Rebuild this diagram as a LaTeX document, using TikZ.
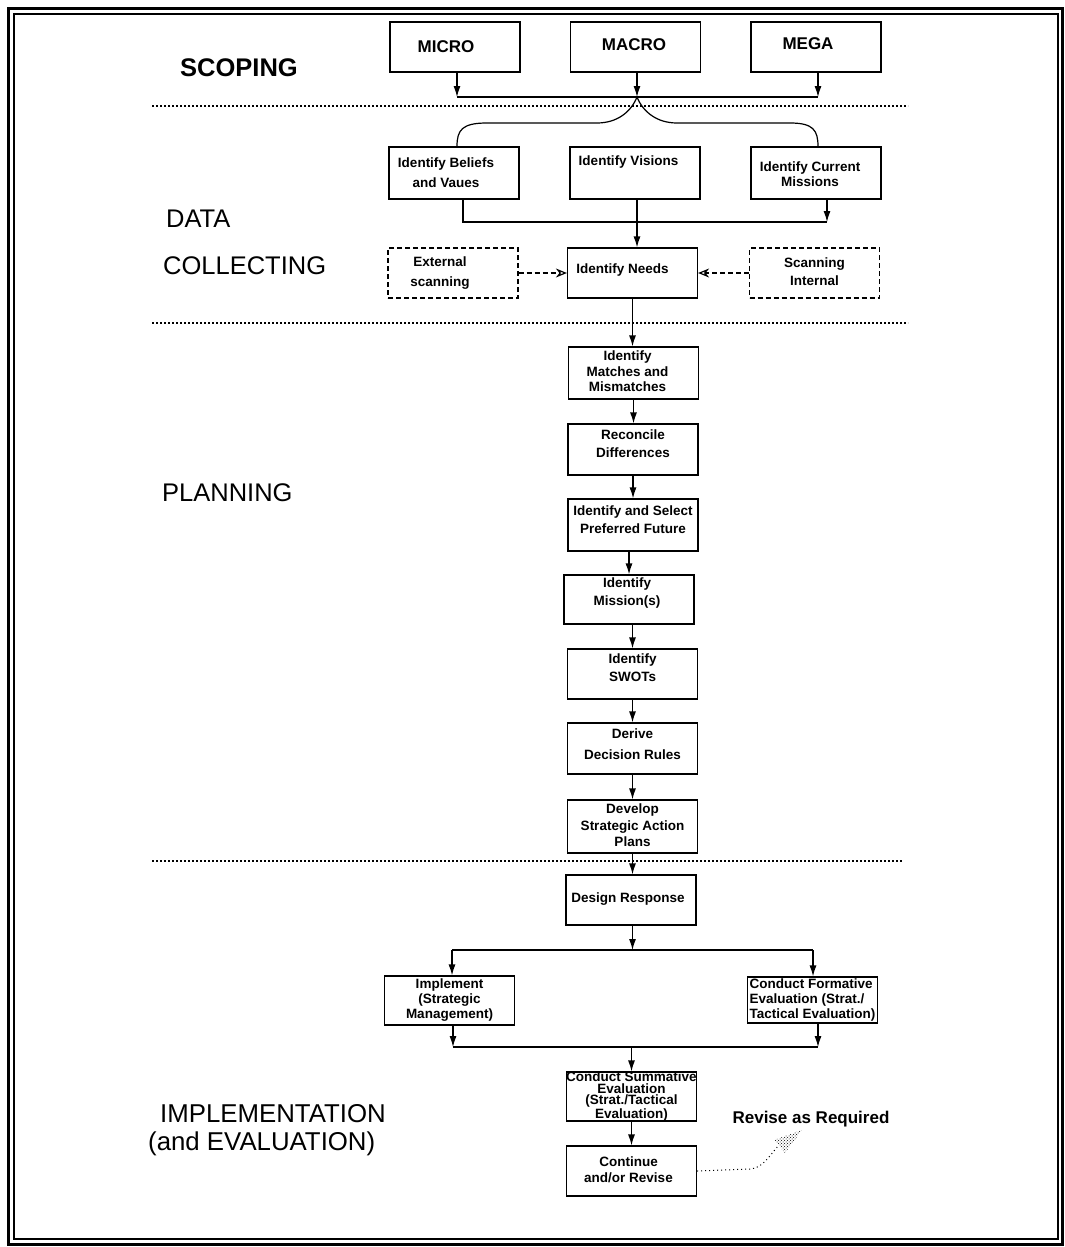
\documentclass[tikz,border=0pt]{standalone}
\usepackage{fontspec}
\setmainfont{Liberation Sans}
\usetikzlibrary{arrows.meta,patterns,calc}

\begin{document}
\begin{tikzpicture}[x=1pt,y=-1pt,
  stage/.style={draw, line width=1.2pt, inner sep=0pt, minimum width=130pt, minimum height=50pt},
  scan/.style={stage, dash pattern=on 5pt off 3pt},
  txt/.style={font=\bfseries\fontsize{13.5}{18}\selectfont, align=center, inner sep=0pt},
  big/.style={font=\bfseries\fontsize{17}{20}\selectfont, inner sep=0pt},
  head/.style={font=\fontsize{25.5}{30}\selectfont, anchor=base west, inner sep=0pt},
  link/.style={line width=1.2pt},
  arr/.style={link, -{Latex[length=11pt,width=7pt]}},
  darr/.style={link, dash pattern=on 5pt off 3pt, -{Stealth[open,length=11pt,width=9pt]}},
  sep/.style={line width=1.6pt, dash pattern=on 1.6pt off 2.4pt},
  hint/.style={line width=1pt, dash pattern=on 1pt off 3pt}]

\useasboundingbox (0,0) rectangle (1065,1247);
\fill[white] (0,0) rectangle (1065,1247);

% double frame
\draw[line width=3pt] (8.5,8.5) rectangle (1062.5,1244);
\draw[line width=1.2pt] (14,14) rectangle (1058,1239);

% phase headings
\node[head, font=\bfseries\fontsize{25.5}{30}\selectfont] (h-scope) at (180,76) {SCOPING};
\node[head] (h-data) at (166,227) {DATA};
\node[head] (h-coll) at (163,274) {COLLECTING};
\node[head] (h-plan) at (162,501) {PLANNING};
\node[head, font=\fontsize{25.8}{30}\selectfont] (h-impl) at (160,1122) {IMPLEMENTATION};
\node[head, font=\fontsize{25.8}{30}\selectfont] (h-eval) at (148,1150) {(and EVALUATION)};

% phase separators
\draw[sep] (152,106) -- (908,106);
\draw[sep] (152,323) -- (908,323);
\draw[sep] (152,861) -- (902,861);

% scoping levels
\node[stage, label={[big, xshift=-9pt]center:MICRO}] (micro) at (455,47) {};
\node[stage, label={[big, xshift=-1.5pt, yshift=2pt]center:MACRO}] (macro) at (635.5,47) {};
\node[stage, label={[big, xshift=-8pt, yshift=3pt]center:MEGA}] (mega) at (816,47) {};

% data collecting
\node[stage, minimum height=52pt, label={[txt, font=\bfseries\fontsize{13.5}{20}\selectfont, xshift=-8pt]center:{Identify Beliefs\\and Vaues}}] (beliefs) at (454,173) {};
\node[stage, minimum height=52pt, label={[txt, xshift=-6.5pt, yshift=11pt]center:{Identify Visions}}] (visions) at (635,173) {};
\node[stage, minimum height=52pt, label={[txt, font=\bfseries\fontsize{13.5}{15}\selectfont, xshift=-6pt, yshift=-1.5pt]center:{Identify Current\\Missions}}] (current) at (816,173) {};

\node[scan, label={[txt, font=\bfseries\fontsize{13.5}{20}\selectfont, xshift=-13pt]center:{External\\scanning}}] (ext) at (453,273) {};
\node[stage, label={[txt, xshift=-10pt, yshift=3pt]center:{Identify Needs}}] (needs) at (632.5,273) {};
\node[scan, label={[txt, yshift=1pt]center:{Scanning\\Internal}}] (intl) at (814.5,273) {};

% planning chain
\node[stage, minimum height=52pt, label={[txt, font=\bfseries\fontsize{13.5}{15.5}\selectfont, xshift=-6pt, yshift=1.5pt]center:{Identify\\Matches and\\Mismatches}}] (match) at (633.5,373) {};
\node[stage, minimum height=51pt, label={[txt, yshift=5.5pt]center:{Reconcile\\Differences}}] (recon) at (633,449.5) {};
\node[stage, minimum height=52pt, label={[txt, yshift=5pt]center:{Identify and Select\\Preferred Future}}] (select) at (633,525) {};
\node[stage, minimum height=49pt, label={[txt, xshift=-2pt, yshift=6.5pt]center:{Identify\\Mission(s)}}] (mission) at (629,599.5) {};
\node[stage, label={[txt, yshift=6pt]center:{Identify\\SWOTs}}] (swots) at (632.5,674) {};
\node[stage, minimum height=51pt, label={[txt, font=\bfseries\fontsize{13.5}{21}\selectfont, yshift=4pt]center:{Derive\\Decision Rules}}] (derive) at (632.5,748.5) {};
\node[stage, minimum height=53pt, label={[txt, font=\bfseries\fontsize{13.5}{16.5}\selectfont, yshift=1pt]center:{Develop\\Strategic Action\\Plans}}] (develop) at (632.5,826.5) {};

% implementation and evaluation
\node[stage, label={[txt, xshift=-3pt, yshift=1pt]center:{Design Response}}] (design) at (631,900) {};
\node[stage, minimum height=49pt, label={[txt, font=\bfseries\fontsize{13.5}{15}\selectfont]center:{Implement\\(Strategic\\Management)}}] (impl) at (449.5,1000.5) {};
\node[stage, minimum height=46pt, label={[txt, align=left, font=\bfseries\fontsize{13.5}{15}\selectfont]center:{Conduct Formative\\Evaluation (Strat./\\Tactical Evaluation)}}] (form) at (812.5,1000) {};
\node[stage, minimum height=49pt, label={[txt, font=\bfseries\fontsize{13.5}{11.7}\selectfont]center:{Conduct Summative\\Evaluation\\(Strat./Tactical\\Evaluation)}}] (summ) at (631.5,1096.5) {};
\node[stage, label={[txt, font=\bfseries\fontsize{13.5}{16}\selectfont, xshift=-3pt, yshift=1pt]center:{Continue\\and/or Revise}}] (cont) at (631.5,1171) {};
\node[big, anchor=base] (revise) at (811,1123) {Revise as Required};

% scoping merge and split
\coordinate (top-l) at (457,97);
\coordinate (top-c) at (637,97);
\coordinate (top-r) at (818,97);
\draw[link] (top-l) -- (top-r);
\draw[arr] (micro.south -| top-l) -- (top-l);
\draw[arr] (macro.south -| top-c) -- (top-c);
\draw[arr] (mega.south -| top-r) -- (top-r);
\draw[link] (top-c) .. controls (631,112) and (617,123) .. (597,123) -- (487,123)
  .. controls (462,123) and (457,130) .. (beliefs.north -| top-l);
\draw[link] (top-c) .. controls (643,112) and (657,123) .. (677,123) -- (790,123)
  .. controls (813,123) and (818,130) .. (current.north -| top-r);

% data collecting merge
\coordinate (dc-l) at (463,222);
\coordinate (dc-c) at (637,222);
\coordinate (dc-r) at (827,222);
\draw[link] (beliefs.south -| dc-l) -- (dc-l) -- (dc-r);
\draw[arr] (current.south -| dc-r) -- (dc-r);
\draw[arr] (visions.south -| dc-c) -- (needs.north -| dc-c);
\draw[darr] (ext.east) -- (needs.west);
\draw[darr] (intl.west) -- (needs.east);

% planning chain links
\draw[arr] (needs.south) -- (needs.south |- match.north);
\draw[arr] (match.south) -- (match.south |- recon.north);
\draw[arr] (recon.south) -- (recon.south |- select.north);
\draw[arr] (mission.north |- select.south) -- (mission.north);
\draw[arr] (swots.north |- mission.south) -- (swots.north);
\draw[arr] (swots.south) -- (swots.south |- derive.north);
\draw[arr] (derive.south) -- (derive.south |- develop.north);
\draw[arr] (develop.south) -- (develop.south |- design.north);

% response split and merge
\coordinate (ds-l) at (452,950);
\coordinate (ds-r) at (813,950);
\draw[link] (ds-l) -- (ds-r);
\draw[arr] (develop.south |- design.south) -- (develop.south |- ds-l);
\draw[arr] (ds-l) -- (impl.north -| ds-l);
\draw[arr] (ds-r) -- (form.north -| ds-r);
\coordinate (ev-l) at (453,1047);
\coordinate (ev-r) at (818,1047);
\draw[link] (ev-l) -- (ev-r);
\draw[arr] (impl.south -| ev-l) -- (ev-l);
\draw[arr] (form.south -| ev-r) -- (ev-r);
\draw[arr] (summ.north |- ev-l) -- (summ.north);
\draw[arr] (summ.south) -- (cont.north);

% revision feedback
\coordinate (rv-tip) at (802,1130);
\draw[hint] (cont.east) -- (750,1169) .. controls (762,1168) and (768,1158) .. (778,1146);
\fill[pattern=crosshatch dots] (rv-tip) -- (774,1140) -- (785,1153) -- cycle;
\end{tikzpicture}
\end{document}
